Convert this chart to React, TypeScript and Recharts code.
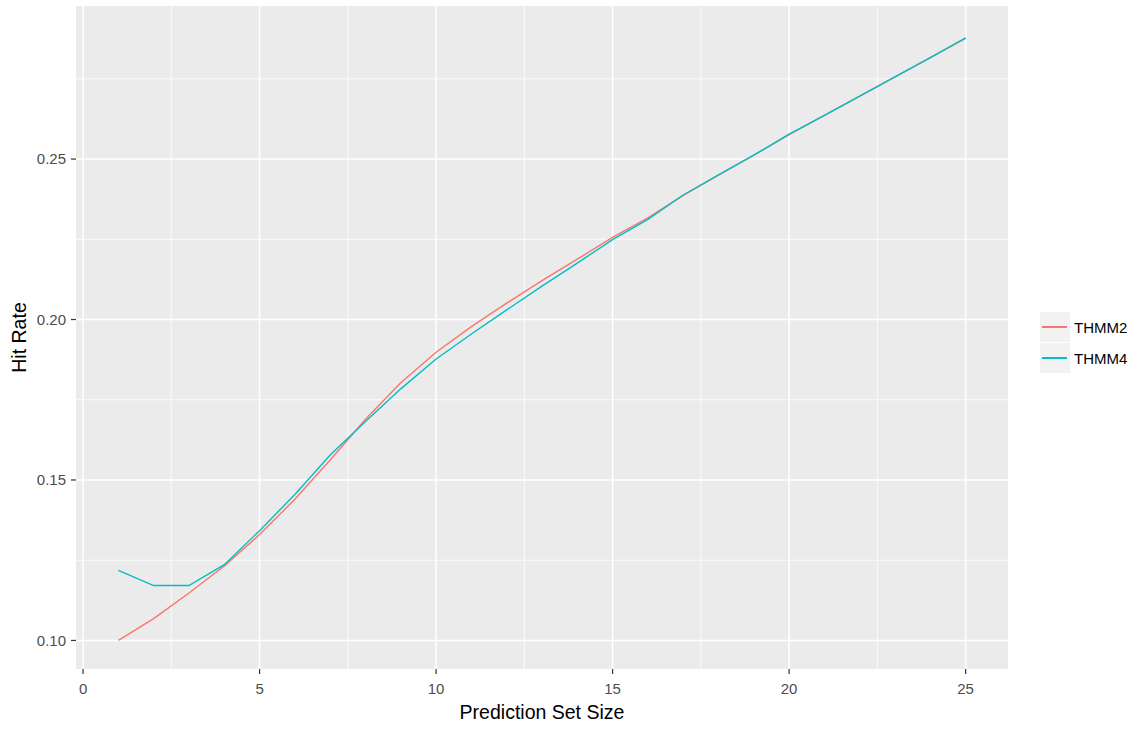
import React from "react";
import { LineChart, Line, XAxis, YAxis, CartesianGrid } from "recharts";

const setSizes = [1, 2, 3, 4, 5, 6, 7, 8, 9, 10, 11, 12, 13, 14, 15, 16, 17, 18, 19, 20, 21, 22, 23, 24, 25];
const thmm2 = [
  0.1, 0.1068, 0.1148, 0.1232, 0.133, 0.1440, 0.1562, 0.1689, 0.1803, 0.1898, 0.1978, 0.2051, 0.2121,
  0.2188, 0.2256, 0.2317, 0.2387, 0.245, 0.2512, 0.2576, 0.2636, 0.2696, 0.2756, 0.2816, 0.2876,
];
const thmm4 = [
  0.1218, 0.1171, 0.1171, 0.1236, 0.1342, 0.1455, 0.1578, 0.1682, 0.1784, 0.1877, 0.1955, 0.203, 0.2104,
  0.2176, 0.2249, 0.2312, 0.2388, 0.2451, 0.2512, 0.2578, 0.2636, 0.2696, 0.2756, 0.2816, 0.2878,
];
const xTicks = [0, 5, 10, 15, 20, 25];
const xMinor = [2.5, 7.5, 12.5, 17.5, 22.5];
const yTicks = [0.1, 0.15, 0.2, 0.25];
const yMinor = [0.125, 0.175, 0.225, 0.275];
const seriesNames = ["THMM2", "THMM4"];
const seriesColors = ["#F8766D", "#00BFC4"];

const data = setSizes.map((s, i) => ({ size: s, THMM2: thmm2[i], THMM4: thmm4[i] }));

const FONT = "'Liberation Sans', Arial, Helvetica, sans-serif";

const LegendBlock = () => (
  <div style={{ position: "absolute", left: 1040, top: 312, fontFamily: FONT, fontSize: 15, color: "#000" }}>
    {seriesNames.map((n, i) => (
      <div key={n} style={{ display: "flex", alignItems: "center", height: 31 }}>
        <div
          style={{
            width: 30,
            height: 30,
            background: "#F2F2F2",
            borderBottom: "1px solid #FFFFFF",
            position: "relative",
          }}
        >
          <div
            style={{
              position: "absolute",
              left: 2,
              width: 25,
              top: 14,
              height: 1.5,
              background: seriesColors[i],
            }}
          />
        </div>
        <span style={{ marginLeft: 4 }}>{n}</span>
      </div>
    ))}
  </div>
);

export default function App() {
  return (
    <div style={{ position: "absolute", left: 0, top: 0, width: 1137, height: 730, background: "#FFFFFF" }}>
      <LineChart width={1137} height={730} data={data} margin={{ top: 6, right: 129, bottom: 0, left: 0 }}>
        <CartesianGrid
          fill="#EBEBEB"
          stroke="#FFFFFF"
          strokeWidth={0.8}
          horizontalValues={yMinor}
          verticalValues={xMinor}
        />
        <CartesianGrid
          fill="none"
          stroke="#FFFFFF"
          strokeWidth={1.5}
          horizontalValues={yTicks}
          verticalValues={xTicks}
        />
        <XAxis
          dataKey="size"
          type="number"
          domain={[-0.2, 26.2]}
          ticks={xTicks}
          allowDataOverflow
          height={61}
          axisLine={false}
          tickSize={5}
          tickMargin={9}
          tickLine={{ stroke: "#333333", strokeWidth: 1.2 }}
          tick={{ fill: "#4D4D4D", fontSize: 15, fontFamily: FONT }}
          label={{
            value: "Prediction Set Size",
            position: "insideBottom",
            offset: 11,
            style: { fill: "#000000", fontSize: 19.5, fontFamily: FONT },
          }}
        />
        <YAxis
          type="number"
          domain={[0.0911, 0.2977]}
          ticks={yTicks}
          allowDataOverflow
          width={76}
          axisLine={false}
          tickSize={5}
          tickMargin={5}
          tickFormatter={(v: number) => v.toFixed(2)}
          tickLine={{ stroke: "#333333", strokeWidth: 1.2 }}
          tick={{ fill: "#4D4D4D", fontSize: 15, fontFamily: FONT }}
          label={{
            value: "Hit Rate",
            angle: -90,
            position: "insideLeft",
            offset: 19,
            style: { fill: "#000000", fontSize: 19.5, fontFamily: FONT, textAnchor: "middle" },
          }}
        />
        <Line
          type="linear"
          dataKey="THMM2"
          stroke={seriesColors[0]}
          strokeWidth={1.4}
          dot={false}
          isAnimationActive={false}
        />
        <Line
          type="linear"
          dataKey="THMM4"
          stroke={seriesColors[1]}
          strokeWidth={1.4}
          dot={false}
          isAnimationActive={false}
        />
      </LineChart>
      <LegendBlock />
    </div>
  );
}
